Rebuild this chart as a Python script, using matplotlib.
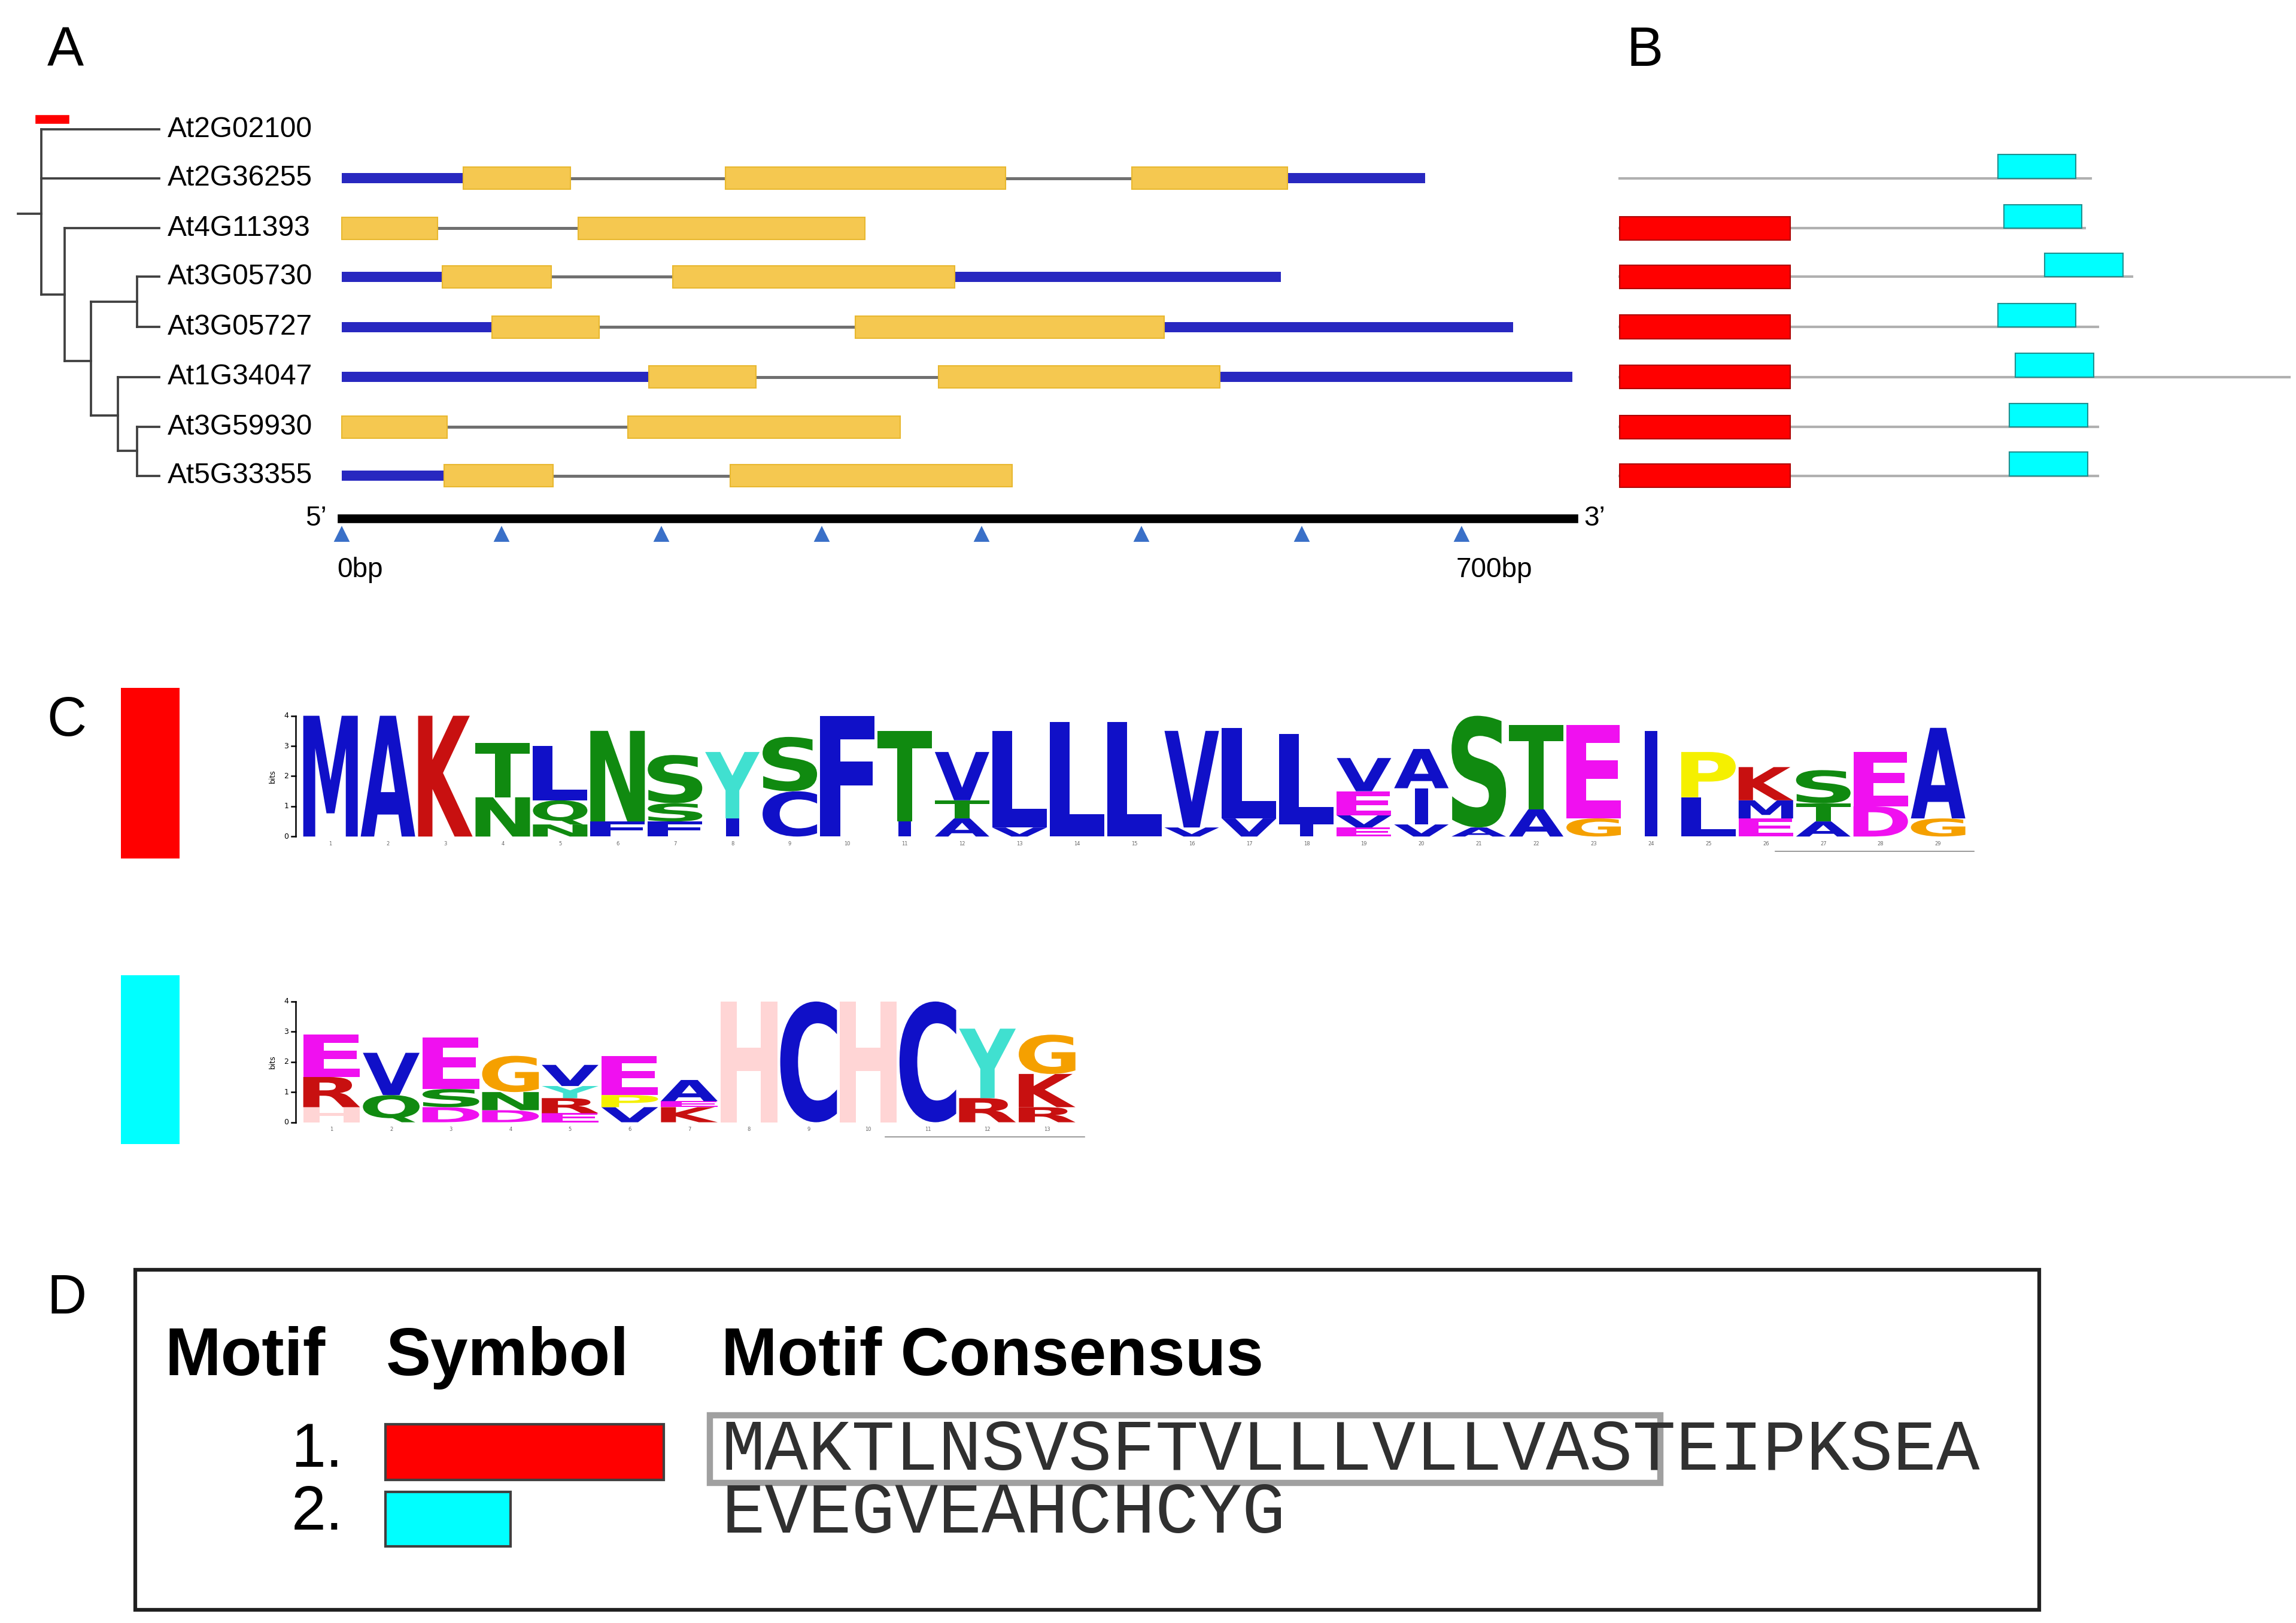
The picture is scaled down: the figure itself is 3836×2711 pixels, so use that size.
import matplotlib
matplotlib.use("Agg")
import matplotlib.pyplot as plt
from matplotlib.textpath import TextPath
from matplotlib.patches import PathPatch, Rectangle
from matplotlib.font_manager import FontProperties
from matplotlib.transforms import Affine2D

# ---------------- data ----------------
genes = ["At2G02100", "At2G36255", "At4G11393", "At3G05730", "At3G05727",
         "At1G34047", "At3G59930", "At5G33355"]
structures = {
    "At2G02100": [],
    "At2G36255": [(0, 76, 'u'), (76, 143, 'e'), (143, 240, 'i'), (240, 415, 'e'), (415, 494, 'i'), (494, 591, 'e'), (591, 677, 'u')],
    "At4G11393": [(0, 60, 'e'), (60, 148, 'i'), (148, 327, 'e')],
    "At3G05730": [(0, 63, 'u'), (63, 131, 'e'), (131, 207, 'i'), (207, 383, 'e'), (383, 587, 'u')],
    "At3G05727": [(0, 94, 'u'), (94, 161, 'e'), (161, 321, 'i'), (321, 514, 'e'), (514, 732, 'u')],
    "At1G34047": [(0, 192, 'u'), (192, 259, 'e'), (259, 373, 'i'), (373, 549, 'e'), (549, 769, 'u')],
    "At3G59930": [(0, 66, 'e'), (66, 179, 'i'), (179, 349, 'e')],
    "At5G33355": [(0, 64, 'u'), (64, 132, 'e'), (132, 243, 'i'), (243, 419, 'e')],
}
axis_max_bp = 770
tick_bp = [0, 100, 200, 300, 400, 500, 600, 700]

protB_len = [320, 316, 348, 325, 455, 325, 325]
protB_m1 = [False, True, True, True, True, True, True]
protB_m2 = [(257, 310), (261, 314), (289, 342), (257, 310), (269, 322), (265, 318), (265, 318)]

motif1 = [[('M', 4.0)], [('A', 4.0)], [('K', 4.0)], [('N', 1.3), ('T', 1.8)], [('N', 0.4), ('Q', 0.8), ('L', 1.8)],
          [('F', 0.5), ('N', 3.0)], [('F', 0.5), ('S', 0.6), ('S', 1.6)], [('I', 0.6), ('Y', 2.2)],
          [('C', 1.5), ('S', 1.8)], [('F', 4.0)], [('I', 0.5), ('T', 3.0)], [('A', 0.6), ('T', 0.6), ('V', 1.6)],
          [('V', 0.3), ('L', 3.2)], [('L', 3.8)], [('L', 3.8)], [('V', 0.3), ('V', 3.2)], [('V', 0.6), ('L', 3.0)],
          [('I', 0.4), ('L', 3.0)], [('E', 0.3), ('V', 0.4), ('E', 0.8), ('V', 1.1)], [('V', 0.4), ('I', 1.2), ('A', 1.3)],
          [('A', 0.3), ('S', 3.7)], [('A', 0.9), ('T', 2.8)], [('G', 0.6), ('E', 3.1)], [('I', 3.5)],
          [('L', 1.3), ('P', 1.5)], [('E', 0.6), ('M', 0.6), ('K', 1.1)], [('A', 0.5), ('T', 0.6), ('S', 1.1)],
          [('D', 1.0), ('E', 1.8)], [('G', 0.6), ('A', 3.0)]]
motif2 = [[('H', 0.5), ('R', 1.0), ('E', 1.4)], [('Q', 0.9), ('V', 1.4)], [('D', 0.5), ('S', 0.6), ('E', 1.7)],
          [('D', 0.4), ('N', 0.6), ('G', 1.2)], [('E', 0.3), ('R', 0.5), ('Y', 0.4), ('V', 0.7)],
          [('V', 0.5), ('P', 0.4), ('E', 1.3)], [('K', 0.5), ('E', 0.2), ('A', 0.7)], [('H', 4.0)], [('C', 4.0)],
          [('H', 4.0)], [('C', 4.0)], [('R', 0.8), ('Y', 2.3)], [('R', 0.5), ('K', 1.1), ('G', 1.3)]]
consensus1 = "MAKTLNSVSFTVLLLVLLVASTEIPKSEA"
consensus2 = "EVEGVEAHCHCYG"

colors = {}
for c in "AVLIMFWC": colors[c] = "#1010C8"
for c in "KR": colors[c] = "#C81010"
for c in "STNQ": colors[c] = "#108A10"
colors['G'] = "#F5A000"
for c in "DE": colors[c] = "#F010F0"
colors['P'] = "#F5F000"
colors['H'] = "#FFD5D5"
colors['Y'] = "#40E0D0"

# ---------------- figure ----------------
W, H = 1560, 1102
fig = plt.figure(figsize=(3837/300, 2711/300), dpi=300)
ax = fig.add_axes([0, 0, 1, 1])
ax.set_xlim(0, W); ax.set_ylim(H, 0); ax.axis('off')
sans = "Liberation Sans"

for lab, x, y in [("A", 32, 35), ("B", 1105, 35), ("C", 32, 490), ("D", 32, 882)]:
    ax.text(x, y, lab, fontsize=22, family=sans, va='center', ha='left')

# ---- Panel A ----
rows_y = [88, 121, 155, 188, 222, 256, 290, 323]
x0, pxbp = 232, 1.087
for g, y in zip(genes, rows_y):
    ax.text(114, y, g, fontsize=11.5, family=sans, va='center', ha='left')
    for s, e, k in structures[g]:
        xs, xe = x0 + s*pxbp, x0 + e*pxbp
        if k == 'i':
            ax.plot([xs, xe], [y, y], color='#707070', lw=1.2, zorder=1)
        elif k == 'u':
            ax.add_patch(Rectangle((xs, y-3.5), xe-xs, 7, fc='#2828C0', ec='none', zorder=2))
        else:
            ax.add_patch(Rectangle((xs, y-7.5), xe-xs, 15, fc='#F5C850', ec='#E8B830', lw=0.5, zorder=3))
ax.plot([x0, x0 + axis_max_bp*pxbp], [352, 352], color='black', lw=3.5)
ax.text(222, 352, "5\u2019", fontsize=11, family=sans, va='center', ha='right')
ax.text(1076, 352, "3\u2019", fontsize=11, family=sans, va='center', ha='left')
for t in tick_bp:
    ax.plot(x0 + t*pxbp, 363, marker='^', color='#3A70C8', ms=5)
ax.text(229, 387, "0bp", fontsize=11, family=sans, va='center', ha='left')
ax.text(989, 387, "700bp", fontsize=11, family=sans, va='center', ha='left')

tk = dict(color='#404040', lw=0.9)
ax.plot([27, 44], [81, 81], color='red', lw=3.5)
ax.plot([28, 108], [88, 88], **tk)
ax.plot([28, 108], [121, 121], **tk)
ax.plot([28, 28], [88, 200], **tk)
ax.plot([12, 28], [145, 145], **tk)
ax.plot([28, 44], [200, 200], **tk)
ax.plot([44, 44], [155, 245], **tk)
ax.plot([44, 108], [155, 155], **tk)
ax.plot([44, 62], [245, 245], **tk)
ax.plot([62, 62], [205, 282], **tk)
ax.plot([62, 93], [205, 205], **tk)
ax.plot([93, 93], [188, 222], **tk)
ax.plot([93, 108], [188, 188], **tk)
ax.plot([93, 108], [222, 222], **tk)
ax.plot([62, 80], [282, 282], **tk)
ax.plot([80, 80], [256, 306], **tk)
ax.plot([80, 108], [256, 256], **tk)
ax.plot([80, 93], [306, 306], **tk)
ax.plot([93, 93], [290, 323], **tk)
ax.plot([93, 108], [290, 290], **tk)
ax.plot([93, 108], [323, 323], **tk)

# ---- Panel B ----
bx = 1100
for i, y in enumerate(rows_y[1:]):
    ax.plot([bx, bx + protB_len[i]], [y, y], color='#B0B0B0', lw=1)
    if protB_m1[i]:
        ax.add_patch(Rectangle((bx, y-8), 116, 16, fc='#FF0000', ec='#B00000', lw=0.5, zorder=3))
    s, e = protB_m2[i]
    ax.add_patch(Rectangle((bx + s, y-16), e-s, 16, fc='#00FFFF', ec='#209090', lw=0.5, zorder=3))

# ---- Panel C: logos ----
bold = FontProperties(family="DejaVu Sans", weight='bold')

def draw_letter(ch, xl, yb, w, h, color):
    tp = TextPath((0, 0), ch, size=1, prop=bold)
    bb = tp.get_extents()
    if ch == 'I':
        xl = xl + w*0.38
        w = w*0.24
    tr = Affine2D().translate(-bb.x0, -bb.y0).scale(w/bb.width, -h/bb.height).translate(xl, yb)
    ax.add_patch(PathPatch(tr.transform_path(tp), fc=color, ec='none', zorder=4))

def draw_logo(motif, xstart, colw, ybase, pxbit):
    for i, col in enumerate(motif):
        yb = ybase
        for ch, hbits in col:
            h = hbits*pxbit
            draw_letter(ch, xstart + i*colw + 1, yb, colw - 2, h, colors[ch])
            yb -= h
        ax.text(xstart + (i+0.5)*colw, ybase + 5, str(i+1), fontsize=2, ha='center', va='center', color='#666666')
    ax.plot([xstart-4, xstart-4], [ybase, ybase-4*pxbit], color='black', lw=0.6)
    for b in range(5):
        ax.plot([xstart-7, xstart-4], [ybase-b*pxbit]*2, color='black', lw=0.6)
        ax.text(xstart-9, ybase-b*pxbit, str(b), fontsize=3, ha='right', va='center')
    ax.text(xstart-20, ybase-2*pxbit, "bits", fontsize=3, rotation=90, ha='center', va='center')
    ax.plot([xstart + len(motif)*colw - 130, xstart + len(motif)*colw + 5], [ybase+10, ybase+10], color='#888888', lw=0.4)

ax.add_patch(Rectangle((82, 467), 40, 116, fc='#FF0000', ec='none'))
ax.add_patch(Rectangle((82, 662), 40, 115, fc='#00FFFF', ec='none'))
draw_logo(motif1, 205, 39.0, 568, 20.5)
draw_logo(motif2, 205, 40.5, 762, 20.5)

# ---- Panel D ----
ax.add_patch(Rectangle((92, 862), 1293, 231, fc='none', ec='#202020', lw=1.5))
for txt, x in [("Motif", 112), ("Symbol", 262), ("Motif Consensus", 490)]:
    ax.text(x, 922, txt, fontsize=27, family=sans, weight='bold', va='center', ha='left')
ax.text(233, 985, "1.", fontsize=25, family=sans, va='center', ha='right')
ax.text(233, 1028, "2.", fontsize=25, family=sans, va='center', ha='right')
ax.add_patch(Rectangle((262, 967), 189, 38, fc='#FF0000', ec='#404040', lw=1))
ax.add_patch(Rectangle((262, 1013), 85, 37, fc='#00FFFF', ec='#404040', lw=1))
ax.text(490, 985, consensus1, fontsize=29, family="Liberation Mono", va='center', ha='left', color='#303030')
ax.text(490, 1028, consensus2, fontsize=29, family="Liberation Mono", va='center', ha='left', color='#303030')
ax.add_patch(Rectangle((482, 961), 646, 46, fc='none', ec='#A0A0A0', lw=2.5))

fig.savefig("out.png", dpi=300)
